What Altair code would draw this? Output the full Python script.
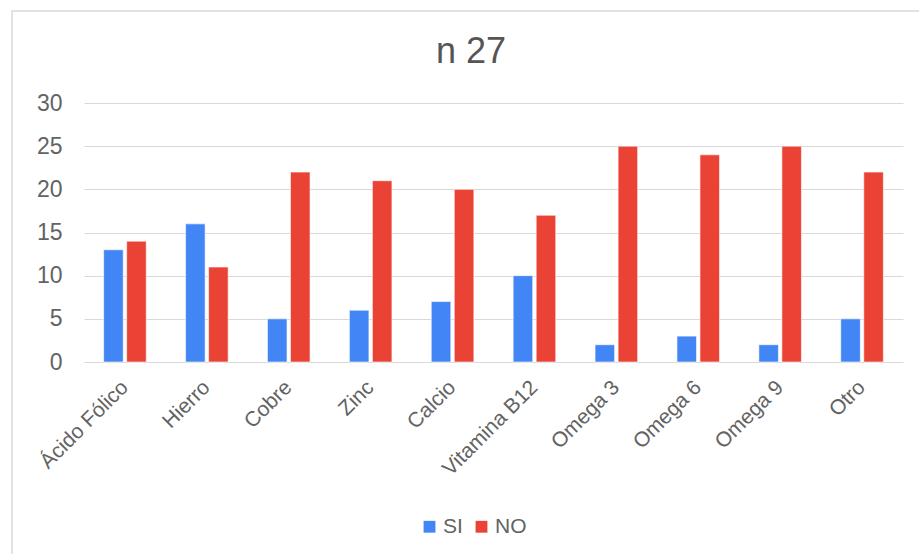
import altair as alt
import pandas as pd

# Survey answers per supplement
categorias = ["Ácido Fólico", "Hierro", "Cobre", "Zinc", "Calcio",
              "Vitamina B12", "Omega 3", "Omega 6", "Omega 9", "Otro"]
si = [13, 16, 5, 6, 7, 10, 2, 3, 2, 5]
no = [14, 11, 22, 21, 20, 17, 25, 24, 25, 22]
series = ["SI", "NO"]
colores = ["#4285F4", "#EA4335"]
titulo = "n 27"

rows = []
for c, a, b in zip(categorias, si, no):
    rows.append({"categoria": c, "respuesta": "SI", "valor": a})
    rows.append({"categoria": c, "respuesta": "NO", "valor": b})
df = pd.DataFrame(rows)

W, H = 819, 259
PAD_L, PAD_T = 84, 103

font = "Liberation Sans"
gris = "#636363"

bars = alt.Chart(df).mark_bar(stroke="white", strokeWidth=0.6).encode(
    x=alt.X("categoria:N", sort=categorias, title=None,
            scale=alt.Scale(paddingInner=0.48, paddingOuter=0.24),
            axis=alt.Axis(labelAngle=-45, labelAlign="right", labelBaseline="middle",
                          labelFontSize=21, labelColor=gris, labelFont=font,
                          labelPadding=22, ticks=False, domain=False, grid=False)),
    xOffset=alt.XOffset("respuesta:N", sort=series,
                        scale=alt.Scale(paddingInner=0.15)),
    y=alt.Y("valor:Q", title=None,
            scale=alt.Scale(domain=[0, 30]),
            axis=alt.Axis(values=[0, 5, 10, 15, 20, 25, 30], labelFontSize=23,
                          labelColor=gris, labelFont=font, labelPadding=22,
                          ticks=False, domain=False, gridColor="#d9d9d9",
                          gridWidth=1)),
    color=alt.Color("respuesta:N", sort=series,
                    scale=alt.Scale(domain=series, range=colores),
                    legend=alt.Legend(title=None, orient="none", direction="horizontal",
                                      legendX=335, legendY=413, symbolType="square",
                                      symbolSize=140, symbolStrokeWidth=0,
                                      labelFontSize=21, labelColor=gris, labelFont=font,
                                      labelOffset=3, columnPadding=8)),
)

# chart heading, centred over the figure
heading = alt.Chart(pd.DataFrame({"t": [titulo]})).mark_text(
    font=font, fontSize=36, color="#555555", align="center", baseline="alphabetic"
).encode(
    text="t:N",
    x=alt.value(471 - PAD_L),
    y=alt.value(63 - PAD_T),
)

# light outer frame around the whole figure
frame = alt.Chart(pd.DataFrame({"k": [0]})).mark_rect(
    fill=None, stroke="#d9d9d9", strokeWidth=1.5
).encode(
    x=alt.value(12 - PAD_L), x2=alt.value(930 - PAD_L),
    y=alt.value(11 - PAD_T), y2=alt.value(600 - PAD_T),
)

chart = alt.layer(frame, bars, heading).properties(
    width=W, height=H,
    autosize=alt.AutoSizeParams(type="none"),
    padding={"left": PAD_L, "top": PAD_T, "right": 919 - PAD_L - W,
             "bottom": 554 - PAD_T - H},
    background="white",
).configure_view(stroke=None)

chart.save("out.html", embed_options={"renderer": "svg", "actions": False})
